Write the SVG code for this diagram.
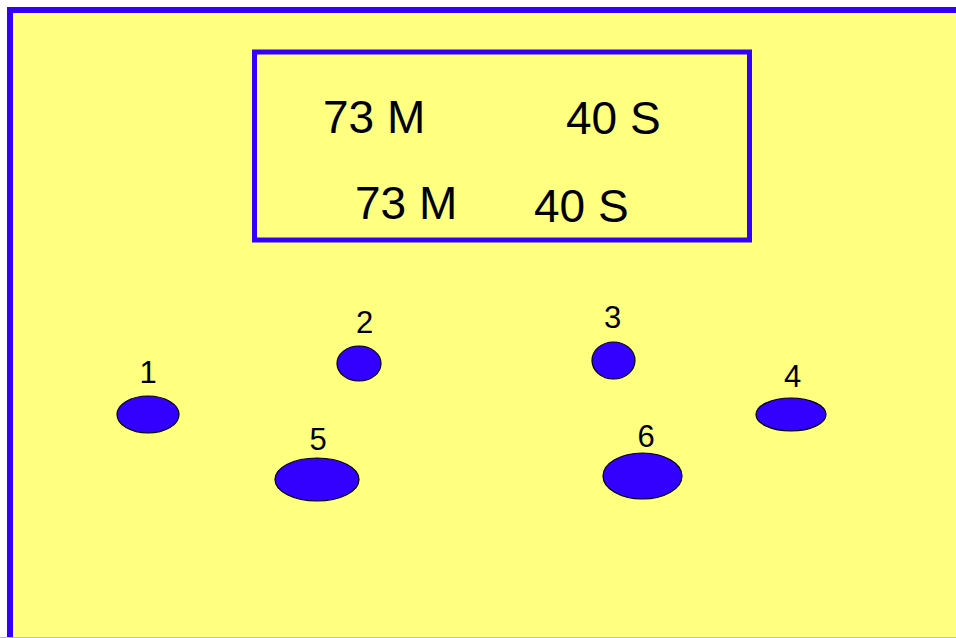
<svg xmlns="http://www.w3.org/2000/svg" width="956" height="638" viewBox="0 0 956 638">
  <style>
    .frame { fill: #FFFF80; stroke: #3300FF; stroke-width: 6; }
    .box { fill: none; stroke: #3300FF; stroke-width: 5; }
    .big { font-family: "Liberation Sans", Arial, sans-serif; font-size: 46px; fill: #000; }
    .spot { fill: #3300FF; stroke: #000; stroke-width: 1.2; }
    .num { font-family: "Liberation Sans", Arial, sans-serif; font-size: 31px; fill: #000; text-anchor: middle; }
  </style>

  <rect x="0" y="0" width="956" height="638" fill="#FFFFFF"/>
  <!-- outer field -->
  <rect class="frame" x="10" y="10" width="960" height="640"/>
  <line x1="0" y1="637.5" x2="956" y2="637.5" stroke="#C0C0C0" stroke-width="1"/>

  <!-- score panel -->
  <g id="panel">
    <rect class="box" x="254.5" y="52" width="495" height="188"/>
    <text class="big" x="323" y="133">73 M</text>
    <text class="big" x="566" y="134">40 S</text>
    <text class="big" x="355" y="219">73 M</text>
    <text class="big" x="534" y="222">40 S</text>
  </g>

  <!-- numbered spots -->
  <g id="spot1">
    <ellipse class="spot" cx="148" cy="414.5" rx="31" ry="18.5"/>
    <text class="num" x="148" y="383">1</text>
  </g>
  <g id="spot2">
    <ellipse class="spot" cx="359" cy="363.5" rx="22" ry="17.5"/>
    <text class="num" x="364.5" y="333">2</text>
  </g>
  <g id="spot3">
    <ellipse class="spot" cx="613.5" cy="360.5" rx="21.5" ry="18.5"/>
    <text class="num" x="612.5" y="328">3</text>
  </g>
  <g id="spot4">
    <ellipse class="spot" cx="791" cy="414.5" rx="35" ry="16.5" stroke-width="2"/>
    <text class="num" x="792.5" y="387">4</text>
  </g>
  <g id="spot5">
    <ellipse class="spot" cx="317" cy="479.5" rx="42" ry="21.5"/>
    <text class="num" x="318" y="450">5</text>
  </g>
  <g id="spot6">
    <ellipse class="spot" cx="642.5" cy="476" rx="39.5" ry="23"/>
    <text class="num" x="646" y="447">6</text>
  </g>

  <g id="connectors"/>
</svg>
